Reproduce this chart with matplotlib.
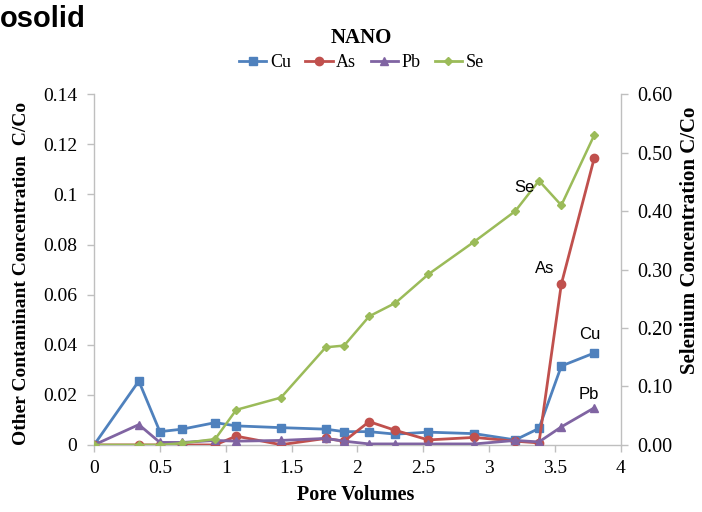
import matplotlib
matplotlib.use("Agg")
import matplotlib.pyplot as plt
from matplotlib.lines import Line2D

# Pore volumes (x) shared by all series
pore_volumes = [0, 0.34, 0.50, 0.67, 0.92, 1.08, 1.42, 1.76, 1.90, 2.09, 2.29, 2.54, 2.89, 3.20, 3.38, 3.55, 3.80]

# Left axis series (C/Co)
cu = [0, 0.0255, 0.0053, 0.0063, 0.0089, 0.0076, 0.0069, 0.0063, 0.0053, 0.0053, 0.0043, 0.0051, 0.0045, 0.0020, 0.0066, 0.0315, 0.0367]
as_ = [0, 0, 0, 0, 0, 0.0035, 0.0001, 0.0026, 0.0015, 0.0093, 0.0058, 0.0020, 0.0030, 0.0015, 0.0008, 0.0642, 0.1145]
pb = [0, 0.0081, 0.0010, 0.0010, 0.0018, 0.0015, 0.0018, 0.0026, 0.0015, 0.0004, 0.0004, 0.0004, 0.0004, 0.0018, 0.0012, 0.0072, 0.0148]

# Right axis series (Selenium C/Co)
se = [0, 0, 0, 0.003, 0.010, 0.060, 0.081, 0.167, 0.170, 0.220, 0.243, 0.292, 0.348, 0.400, 0.452, 0.410, 0.530]

left_ticks = [0, 0.02, 0.04, 0.06, 0.08, 0.1, 0.12, 0.14]
left_labels = ["0", "0.02", "0.04", "0.06", "0.08", "0.1", "0.12", "0.14"]
right_ticks = [0, 0.1, 0.2, 0.3, 0.4, 0.5, 0.6]
right_labels = ["0.00", "0.10", "0.20", "0.30", "0.40", "0.50", "0.60"]
x_ticks = [0, 0.5, 1, 1.5, 2, 2.5, 3, 3.5, 4]
x_labels = ["0", "0.5", "1", "1.5", "2", "2.5", "3", "3.5", "4"]

c_cu = "#4F81BD"
c_as = "#C0504D"
c_pb = "#8064A2"
c_se = "#9BBB59"
axis_gray = "#BFBFBF"

serif = "Liberation Serif"
sans = "Liberation Sans"

fig = plt.figure(figsize=(7.02, 5.12), dpi=100)
ax = fig.add_axes([0.134, 0.131, 0.750, 0.685])
ax2 = ax.twinx()

ax.plot(pore_volumes, cu, color=c_cu, lw=2, marker="s", ms=6, zorder=3)
ax.plot(pore_volumes, as_, color=c_as, lw=2, marker="o", ms=6, zorder=3)
ax.plot(pore_volumes, pb, color=c_pb, lw=2, marker="^", ms=6, zorder=3)
ax2.plot(pore_volumes, se, color=c_se, lw=1.8, marker="D", ms=4)

ax.set_xlim(0, 4)
ax.set_ylim(0, 0.14)
ax2.set_ylim(0, 0.6)
ax.set_xticks(x_ticks)
ax.set_xticklabels(x_labels, family=serif, fontsize=14)
ax.set_yticks(left_ticks)
ax.set_yticklabels(left_labels, family=serif, fontsize=14)
ax2.set_yticks(right_ticks)
ax2.set_yticklabels(right_labels, family=serif, fontsize=14.5)

for a in (ax, ax2):
    a.spines["top"].set_visible(False)
    for s in ("left", "right", "bottom"):
        a.spines[s].set_color(axis_gray)
        a.spines[s].set_linewidth(1)
    a.tick_params(colors=axis_gray, labelcolor="black", length=5, width=1, pad=7)
ax.tick_params(axis="x", pad=6)
ax.spines["right"].set_visible(False)
ax2.spines["left"].set_visible(False)
ax2.spines["bottom"].set_visible(False)

ax.set_xlabel("Pore Volumes", family=serif, fontweight="bold", fontsize=14.5, va="center")
ax.set_ylabel("Other Contaminant Concentration  C/Co", family=serif, fontweight="bold",
              fontsize=14, va="center", ha="center")
ax2.set_ylabel("Selenium Concentration C/Co", family=serif, fontweight="bold",
               fontsize=15, va="center", ha="center")
ax.xaxis.set_label_coords(0.496, -0.142)
ax.yaxis.set_label_coords(-0.137, 0.49)
ax2.yaxis.set_label_coords(1.132, 0.584)

fig.text(0.515, 0.925, "NANO", family=serif, fontweight="bold", fontsize=15, ha="center", va="center")
fig.text(0.0, 0.962, "osolid", family=sans, fontweight="bold", fontsize=21, ha="left", va="center")

handles = [
    Line2D([], [], color=c_cu, lw=2, marker="s", ms=6),
    Line2D([], [], color=c_as, lw=2, marker="o", ms=6),
    Line2D([], [], color=c_pb, lw=2, marker="^", ms=6),
    Line2D([], [], color=c_se, lw=2, marker="D", ms=4),
]
fig.legend(handles, ["Cu", "As", "Pb", "Se"], loc="center", bbox_to_anchor=(0.515, 0.878),
           ncol=4, frameon=False, prop={"family": serif, "size": 13},
           handlelength=1.5, handletextpad=0.2, columnspacing=0.8)

# curve labels
ax2.text(3.27, 0.44, "Se", family=sans, fontsize=12, ha="center", va="center")
ax.text(3.42, 0.0706, "As", family=sans, fontsize=12, ha="center", va="center")
ax.text(3.77, 0.0439, "Cu", family=sans, fontsize=12, ha="center", va="center")
ax.text(3.76, 0.0200, "Pb", family=sans, fontsize=12, ha="center", va="center")

fig.savefig("out.png", dpi=100)
